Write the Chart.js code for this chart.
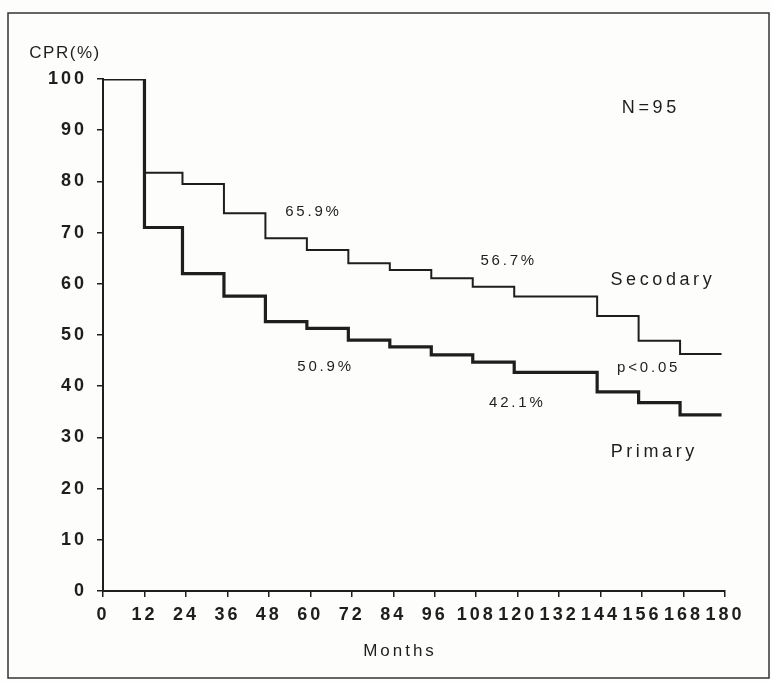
<!DOCTYPE html>
<html>
<head>
<meta charset="utf-8">
<script src="https://cdn.jsdelivr.net/npm/chart.js@4.4.1/dist/chart.umd.min.js"></script>
<style>
    html, body { margin: 0; padding: 0; background: #fdfdfb; }
    #wrap { width: 772px; height: 681px; position: relative; }
</style>
</head>
<body>
<div id="wrap"><canvas id="cprChart" width="772" height="681"></canvas></div>
<script>
const xTicks = [0, 12, 24, 36, 48, 60, 72, 84, 96, 108, 120, 132, 144, 156, 168, 180];
const yTicks = [0, 10, 20, 30, 40, 50, 60, 70, 80, 90, 100];

const secondaryMonths = [0, 12, 23, 35, 47, 59, 71, 83, 95, 107, 119, 143, 155, 167, 179];
const secondaryRates = [100, 81.7, 79.5, 73.8, 68.9, 66.6, 64.0, 62.7, 61.1, 59.4, 57.5, 53.7, 48.9, 46.3, 46.3];

const primaryMonths = [0, 12, 23, 35, 47, 59, 71, 83, 95, 107, 119, 143, 155, 167, 179];
const primaryRates = [100, 71.0, 62.0, 57.6, 52.6, 51.3, 49.0, 47.7, 46.1, 44.7, 42.7, 38.9, 36.8, 34.4, 34.4];

// text notes placed in data coordinates (month, percent)
const notes = [
    { text: 'N=95', x: 158, y: 94.3, small: false },
    { text: '65.9%', x: 60.5, y: 74, small: true },
    { text: '56.7%', x: 117, y: 64.5, small: true },
    { text: 'Secodary', x: 161.5, y: 60.7, small: false },
    { text: '50.9%', x: 64, y: 43.8, small: true },
    { text: '42.1%', x: 119.5, y: 36.8, small: true },
    { text: 'p<0.05', x: 157.5, y: 43.5, small: true },
    { text: 'Primary', x: 159, y: 27.2, small: false }
];

const ink = '#1e1e1e';
const font = '"Liberation Sans", Arial, sans-serif';

function toPoints(xs, ys) {
    return xs.map((m, i) => ({ x: m, y: ys[i] }));
}

const spacingPlugin = {
    id: 'spacing',
    beforeDraw(chart) {
        chart.ctx.letterSpacing = '3px';
    }
};

const extrasPlugin = {
    id: 'extras',
    afterDraw(chart) {
        const ctx = chart.ctx;
        const xs = chart.scales.x;
        const ys = chart.scales.y;
        ctx.save();
        ctx.fillStyle = ink;
        ctx.textAlign = 'center';
        ctx.textBaseline = 'middle';
        notes.forEach(n => {
            const gap = n.small ? 2.8 : 3.6;
            ctx.letterSpacing = gap + 'px';
            ctx.font = (n.small ? '15px ' : '18px ') + font;
            ctx.fillText(n.text, xs.getPixelForValue(n.x) + gap / 2, ys.getPixelForValue(n.y));
        });
        ctx.font = '17px ' + font;
        ctx.letterSpacing = '1.5px';
        ctx.fillText('CPR(%)', 65, 53);
        ctx.letterSpacing = '3px';
        ctx.fillText('Months', 400, 651);
        // outer frame
        ctx.strokeStyle = '#333';
        ctx.lineWidth = 1.5;
        ctx.strokeRect(8, 13, 761, 665);
        ctx.restore();
    }
};

new Chart(document.getElementById('cprChart').getContext('2d'), {
    type: 'line',
    data: {
        datasets: [
            {
                label: 'Secodary',
                data: toPoints(secondaryMonths, secondaryRates),
                borderColor: ink,
                borderWidth: 2,
                stepped: true,
                pointRadius: 0,
                fill: false
            },
            {
                label: 'Primary',
                data: toPoints(primaryMonths, primaryRates),
                borderColor: ink,
                borderWidth: 3.2,
                stepped: true,
                pointRadius: 0,
                fill: false
            }
        ]
    },
    options: {
        responsive: false,
        animation: false,
        layout: { padding: { left: 0, top: 79, right: 47, bottom: 0 } },
        plugins: {
            legend: { display: false },
            tooltip: { enabled: false }
        },
        scales: {
            x: {
                type: 'linear',
                min: 0,
                max: 180,
                afterBuildTicks: scale => { scale.ticks = xTicks.map(v => ({ value: v })); },
                afterFit: scale => { scale.height = 90; },
                border: { display: true, color: ink, width: 2 },
                grid: { drawOnChartArea: false, drawTicks: true, tickLength: 6, color: ink, lineWidth: 1.5 },
                ticks: {
                    color: ink,
                    padding: 7,
                    maxRotation: 0,
                    autoSkip: false,
                    font: { family: font, size: 18, weight: 'bold' }
                }
            },
            y: {
                min: 0,
                max: 100,
                afterBuildTicks: scale => { scale.ticks = yTicks.map(v => ({ value: v })); },
                afterFit: scale => { scale.width = 103; },
                border: { display: true, color: ink, width: 2 },
                grid: { drawOnChartArea: false, drawTicks: true, tickLength: 6, color: ink, lineWidth: 1.5 },
                ticks: {
                    color: ink,
                    padding: 10,
                    font: { family: font, size: 18, weight: 'bold' }
                }
            }
        }
    },
    plugins: [spacingPlugin, extrasPlugin]
});
</script>
</body>
</html>
